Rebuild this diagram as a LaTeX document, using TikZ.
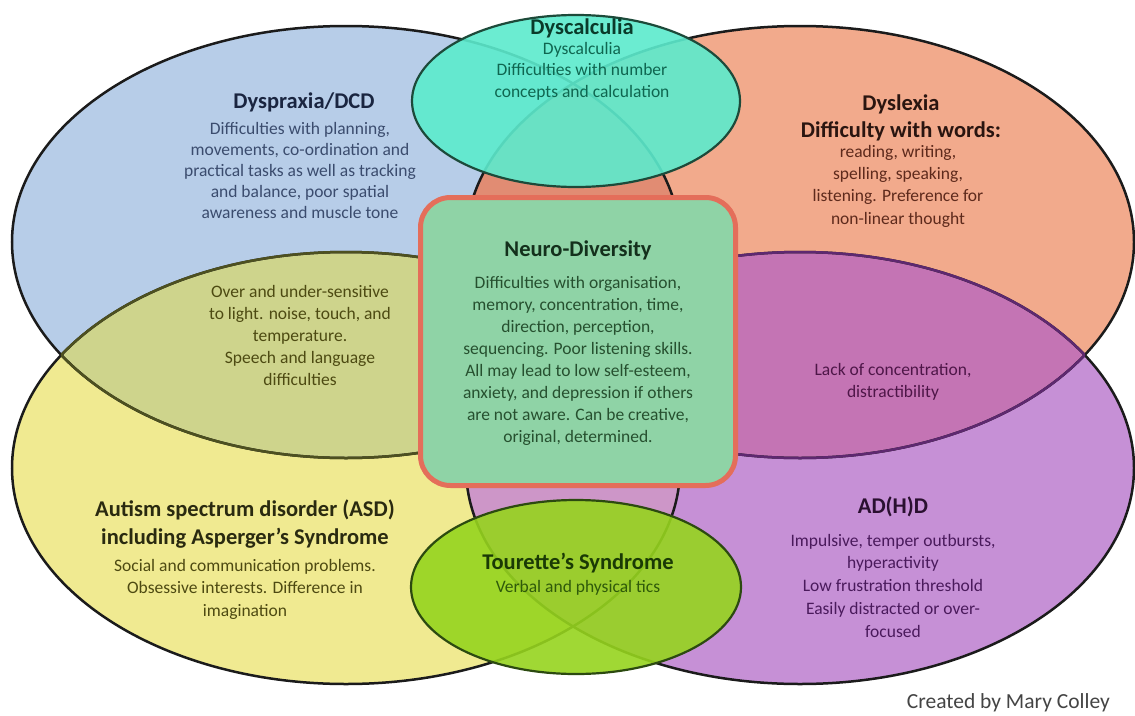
\documentclass[tikz,border=0pt]{standalone}
\usepackage{fontspec}
\setmainfont{Carlito}
\begin{document}
\begin{tikzpicture}[x=1pt,y=-1pt,
  body/.style={align=center, inner sep=0pt, anchor=north, font=\fontsize{17.5}{21.5}\selectfont},
  head/.style={align=center, inner sep=0pt, anchor=north, font=\bfseries\fontsize{22.5}{27.5}\selectfont},
  ring/.style={draw=ringcol, line width=2.5pt},
]
% palette
\definecolor{ringcol}{HTML}{1B1B1B}
\definecolor{dpfill}{HTML}{B7CDE8}
\definecolor{dlfill}{HTML}{F2AA8C}
\definecolor{asfill}{HTML}{F0EA91}
\definecolor{adfill}{HTML}{C690D6}
\definecolor{olivefill}{HTML}{CED48C}
\definecolor{magfill}{HTML}{C474B4}
\definecolor{dpdlfill}{HTML}{E18C73}
\definecolor{asadfill}{HTML}{CD96C8}
\definecolor{oliveline}{HTML}{4D5020}
\definecolor{purpline}{HTML}{5E2870}
\definecolor{dcfill}{HTML}{5CEBCD}
\definecolor{dcline}{HTML}{1D4A3A}
\definecolor{tsfill}{HTML}{96D41E}
\definecolor{tsline}{HTML}{2C4A10}
\definecolor{boxfill}{HTML}{8FD3A6}
\definecolor{boxline}{HTML}{E46E5A}
\definecolor{dphead}{HTML}{1A2540}
\definecolor{dpbody}{HTML}{3B4C6E}
\definecolor{dchead}{HTML}{0A3A2A}
\definecolor{dcbody}{HTML}{0F6650}
\definecolor{dlhead}{HTML}{2A1510}
\definecolor{dlbody}{HTML}{5E2A1C}
\definecolor{olbody}{HTML}{4D4A12}
\definecolor{ndhead}{HTML}{14301C}
\definecolor{ndbody}{HTML}{26502F}
\definecolor{mgbody}{HTML}{4E1648}
\definecolor{ashead}{HTML}{2A2A10}
\definecolor{asbody}{HTML}{4E4A12}
\definecolor{tshead}{HTML}{1A3A05}
\definecolor{tsbody}{HTML}{2F5A0A}
\definecolor{adhead}{HTML}{2A1030}
\definecolor{adbody}{HTML}{4A1A5C}
\definecolor{credit}{HTML}{444444}

\useasboundingbox (0,0) rectangle (1135,715);
\fill[white] (0,0) rectangle (1135,715);

% the four large ellipses
\def\shapeDP{(346,242) ellipse [x radius=334pt, y radius=216pt]}
\def\shapeDL{(800,242) ellipse [x radius=334pt, y radius=216pt]}
\def\shapeAS{(346,468) ellipse [x radius=334pt, y radius=216pt]}
\def\shapeAD{(800,468) ellipse [x radius=334pt, y radius=216pt]}
% the two small ellipses
\def\shapeDC{(576,101) ellipse [x radius=164pt, y radius=86pt]}
\def\shapeTS{(576,587) ellipse [x radius=165pt, y radius=87pt]}

\fill[dpfill] \shapeDP;
\fill[dlfill] \shapeDL;
\fill[asfill] \shapeAS;
\fill[adfill] \shapeAD;

% overlaps
\begin{scope}\clip \shapeDP; \fill[olivefill] \shapeAS; \end{scope}
\begin{scope}\clip \shapeDL; \fill[magfill] \shapeAD; \end{scope}
\begin{scope}\clip \shapeDP; \fill[dpdlfill] \shapeDL; \end{scope}
\begin{scope}\clip \shapeAS; \fill[asadfill] \shapeAD; \end{scope}

% outlines
\draw[ring] \shapeDP;
\draw[ring] \shapeDL;
\draw[ring] \shapeAS;
\draw[ring] \shapeAD;
\begin{scope}\clip \shapeAS; \draw[ring, draw=oliveline] \shapeDP; \end{scope}
\begin{scope}\clip \shapeDP; \draw[ring, draw=oliveline] \shapeAS; \end{scope}
\begin{scope}\clip \shapeAD; \draw[ring, draw=purpline] \shapeDL; \end{scope}
\begin{scope}\clip \shapeDL; \draw[ring, draw=purpline] \shapeAD; \end{scope}

% small ellipses
\fill[dcfill, fill opacity=0.9] \shapeDC;
\draw[dcline, line width=2.2pt] \shapeDC;
\fill[tsfill, fill opacity=0.9] \shapeTS;
\draw[tsline, line width=2.2pt] \shapeTS;

% central box
\draw[line width=5pt, draw=boxline, fill=boxfill, rounded corners=30pt]
  (420.5,197.5) rectangle (735.5,485.5);

% texts
\node[head, text=dphead] (dpT) at (304,91) {\rule{0pt}{17pt}Dyspraxia/DCD};
\node[body, text=dpbody, font=\fontsize{17.5}{21}\selectfont] (dpB) at (300,120)
  {\rule{0pt}{14pt}Difficulties with planning,\\movements, co-ordination and\\practical tasks as well as tracking\\and balance, poor spatial\\awareness and muscle tone};

\node[head, text=dchead] (dcT) at (582,17) {\rule{0pt}{17pt}Dyscalculia};
\node[body, text=dcbody] (dcB) at (582,40)
  {\rule{0pt}{14pt}Dyscalculia\\Difficulties with number\\concepts and calculation};

\node[head, text=dlhead] (dlT) at (901,93) {\rule{0pt}{17pt}Dyslexia\\Difficulty with words:};
\node[body, text=dlbody, font=\fontsize{17.5}{22.3}\selectfont] (dlB) at (898,143)
  {\rule{0pt}{14pt}reading, writing,\\spelling, speaking,\\listening. Preference for\\non-linear thought};

\node[body, text=olbody, font=\fontsize{17.5}{22}\selectfont] (olB) at (300,283)
  {\rule{0pt}{14pt}Over and under-sensitive\\to light. noise, touch, and\\temperature.\\Speech and language\\difficulties};

\node[head, text=ndhead] (ndT) at (578,239) {\rule{0pt}{17pt}Neuro-Diversity};
\node[body, text=ndbody, font=\fontsize{17.5}{22}\selectfont] (ndB) at (578,274)
  {\rule{0pt}{14pt}Difficulties with organisation,\\memory, concentration, time,\\direction, perception,\\sequencing. Poor listening skills.\\All may lead to low self-esteem,\\anxiety, and depression if others\\are not aware. Can be creative,\\original, determined.};

\node[body, text=mgbody, font=\fontsize{17.5}{22}\selectfont] (mgB) at (893,361)
  {\rule{0pt}{14pt}Lack of concentration,\\distractibility};

\node[head, text=ashead, font=\bfseries\fontsize{22.5}{28}\selectfont] (asT) at (245,499)
  {\rule{0pt}{17pt}Autism spectrum disorder (ASD)\\including Asperger’s Syndrome};
\node[body, text=asbody, font=\fontsize{17.5}{22.5}\selectfont] (asB) at (245,557)
  {\rule{0pt}{14pt}Social and communication problems.\\Obsessive interests. Difference in\\imagination};

\node[head, text=tshead] (tsT) at (578,552) {\rule{0pt}{17pt}Tourette’s Syndrome};
\node[body, text=tsbody] (tsB) at (578,578) {\rule{0pt}{14pt}Verbal and physical tics};

\node[head, text=adhead] (adT) at (893,496) {\rule{0pt}{17pt}AD(H)D};
\node[body, text=adbody, font=\fontsize{17.5}{22.75}\selectfont] (adB) at (893,532)
  {\rule{0pt}{14pt}Impulsive, temper outbursts,\\hyperactivity\\Low frustration threshold\\Easily distracted or over-\\focused};

\node[anchor=base east, inner sep=0pt, text=credit, font=\fontsize{21.5}{24}\selectfont]
  (cred) at (1110,708) {Created by Mary Colley};
\end{tikzpicture}
\end{document}
